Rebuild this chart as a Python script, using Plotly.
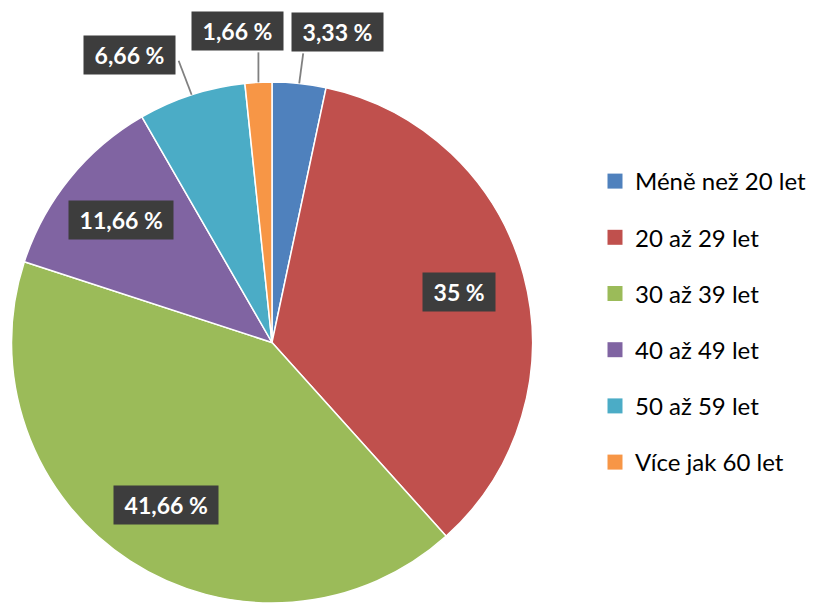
import math
import plotly.graph_objects as go

categories = ["Méně než 20 let", "20 až 29 let", "30 až 39 let", "40 až 49 let", "50 až 59 let", "Více jak 60 let"]
values = [3.33, 35, 41.66, 11.66, 6.66, 1.66]
label_texts = ["3,33 %", "35 %", "41,66 %", "11,66 %", "6,66 %", "1,66 %"]
colors = ["#4F81BD", "#C0504D", "#9BBB59", "#8064A2", "#4BACC6", "#F79646"]

W, H = 814, 603
dom_x = [11 / W, 533 / W]
dom_y = [0.0, 1 - 82 / H]

fig = go.Figure()
fig.add_trace(go.Pie(
    labels=categories, values=values, sort=False, direction="clockwise", rotation=0,
    marker=dict(colors=colors, line=dict(color="white", width=1.5)),
    textinfo="none", hoverinfo="label+percent", showlegend=False,
    domain=dict(x=dom_x, y=dom_y),
))

# dummy traces for the legend (spacing control)
for c, col in zip(categories, colors):
    fig.add_trace(go.Scatter(x=[None], y=[None], mode="markers", name=c, legendgroup=c,
                             marker=dict(symbol="square", size=15, color=col)))

cx = (dom_x[0] + dom_x[1]) / 2 * W
cy = (1 - (dom_y[0] + dom_y[1]) / 2) * H
R = min((dom_x[1] - dom_x[0]) * W, (dom_y[1] - dom_y[0]) * H) / 2
total = sum(values)

# outside labels: (leader line end offset, label box centre offset) in px from the slice edge
outside = {0: ((4, -30), (38, -51)), 5: ((0, -30), (-21, -51)), 4: ((-13, -34), (-62, -40))}
NB = "\u00a0"
font = dict(family="Lato, Open Sans, sans-serif", size=23, color="white", weight="bold")
box = dict(bgcolor="#3D3D3D", borderpad=5, font=font, xanchor="center", yanchor="middle",
           showarrow=False, xref="paper", yref="paper")
cum = 0
for i, v in enumerate(values):
    mid = (cum + v / 2) / total * 2 * math.pi
    cum += v
    txt = NB + label_texts[i] + NB
    if i in outside:
        px = cx + R * math.sin(mid)
        py = cy - R * math.cos(mid)
        (lx, ly), (bx, by) = outside[i]
        fig.add_shape(type="line", xref="paper", yref="paper",
                      x0=px / W, y0=1 - py / H, x1=(px + lx) / W, y1=1 - (py + ly) / H,
                      line=dict(color="#808080", width=1.8))
        fig.add_annotation(x=px / W, y=1 - py / H, xshift=bx, yshift=-by, text=txt, **box)
    else:
        r = 0.745 * R
        px = cx + r * math.sin(mid)
        py = cy - r * math.cos(mid)
        fig.add_annotation(x=px / W, y=1 - py / H, text=txt, **box)

fig.update_layout(
    width=W, height=H, margin=dict(l=0, r=0, t=0, b=0),
    paper_bgcolor="white", plot_bgcolor="white",
    xaxis=dict(visible=False), yaxis=dict(visible=False),
    legend=dict(x=595 / W, y=1 - 159 / H, xanchor="left", yanchor="top",
                tracegroupgap=22, itemwidth=30, bgcolor="rgba(0,0,0,0)",
                font=dict(family="Lato, Open Sans, sans-serif", size=24, color="#000000")),
)
fig.write_html("out.html", config={"displayModeBar": False},
               post_script="document.body.style.margin='0px';")
